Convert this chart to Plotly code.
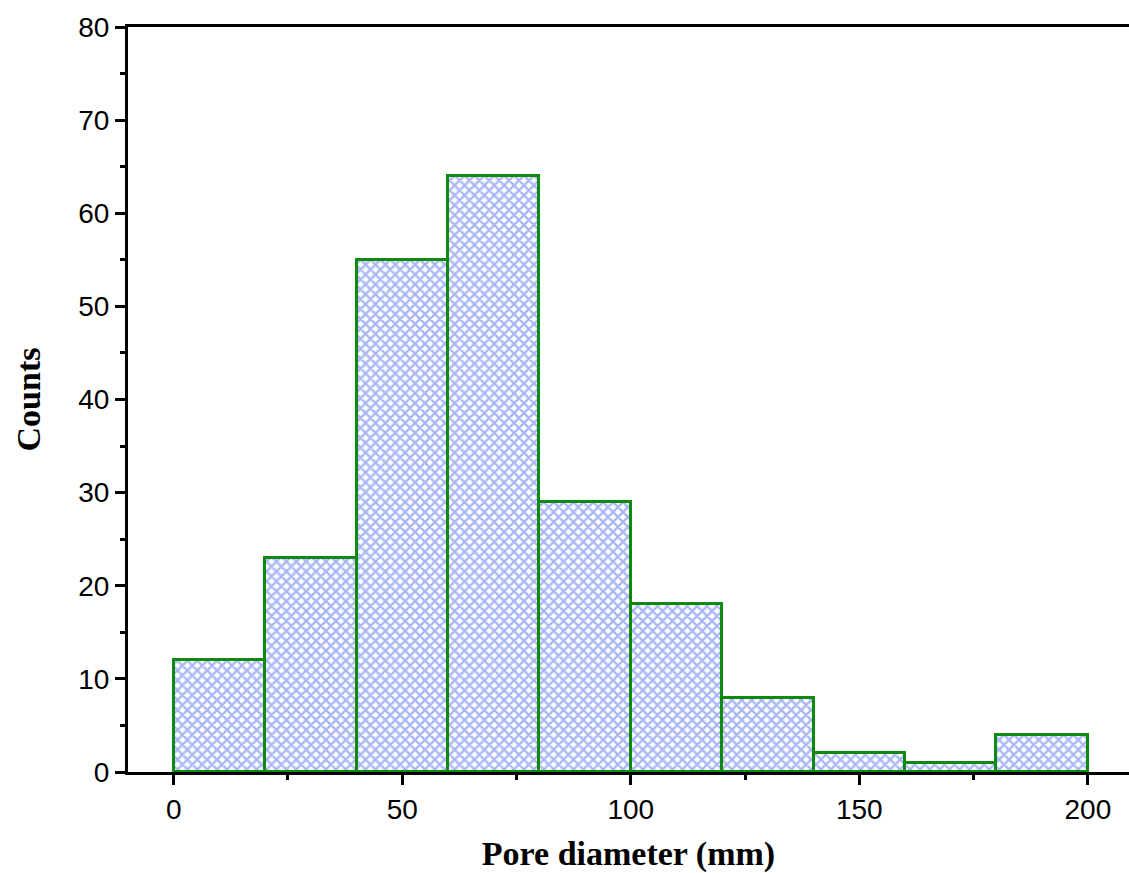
import plotly.graph_objects as go

bin_left = [0, 20, 40, 60, 80, 100, 120, 140, 160, 180]
bin_width = 20
counts = [12, 23, 55, 64, 29, 18, 8, 2, 1, 4]
x_ticks = [0, 50, 100, 150, 200]
y_ticks = [0, 10, 20, 30, 40, 50, 60, 70, 80]

centers = [b + bin_width / 2 for b in bin_left]

fig = go.Figure()
fig.add_trace(go.Bar(
    x=centers, y=counts, width=bin_width,
    marker=dict(
        color="white",
        line=dict(color="#0e8a0e", width=3),
        pattern=dict(shape="x", fgcolor="#aab7f5", bgcolor="white",
                     size=7, solidity=0.55, fillmode="replace"),
    ),
    showlegend=False,
))

axis_font = dict(family="Liberation Sans, Arial, sans-serif", size=28, color="black")
title_font = dict(family="Liberation Serif, Times New Roman, serif", size=34, color="black")

fig.update_layout(
    width=1129, height=873,
    margin=dict(l=128, r=0, t=27, b=101),
    paper_bgcolor="white", plot_bgcolor="white",
    bargap=0,
    xaxis=dict(
        range=[-10, 209], tickvals=x_ticks, ticktext=[str(v) for v in x_ticks],
        showline=True, linecolor="black", linewidth=3, mirror=True,
        ticks="outside", ticklen=10, tickwidth=3, tickcolor="black",
        minor=dict(ticks="outside", ticklen=5, tickwidth=3, dtick=25, tick0=0, tickcolor="black"),
        showgrid=False, zeroline=False,
        tickfont=axis_font,
        title=dict(text="<b>Pore diameter (mm)</b>", font=title_font, standoff=19),
    ),
    yaxis=dict(
        range=[0, 80], tickvals=y_ticks, ticktext=[str(v) for v in y_ticks],
        showline=True, linecolor="black", linewidth=3, mirror=False,
        ticks="outside", ticklen=10, tickwidth=3, tickcolor="black",
        minor=dict(ticks="outside", ticklen=5, tickwidth=3, dtick=5, tick0=0, tickcolor="black"),
        showgrid=False, zeroline=False,
        tickfont=axis_font,
        title=dict(text="<b>Counts</b>", font=title_font, standoff=28),
    ),
)

fig.write_html("out.html")
